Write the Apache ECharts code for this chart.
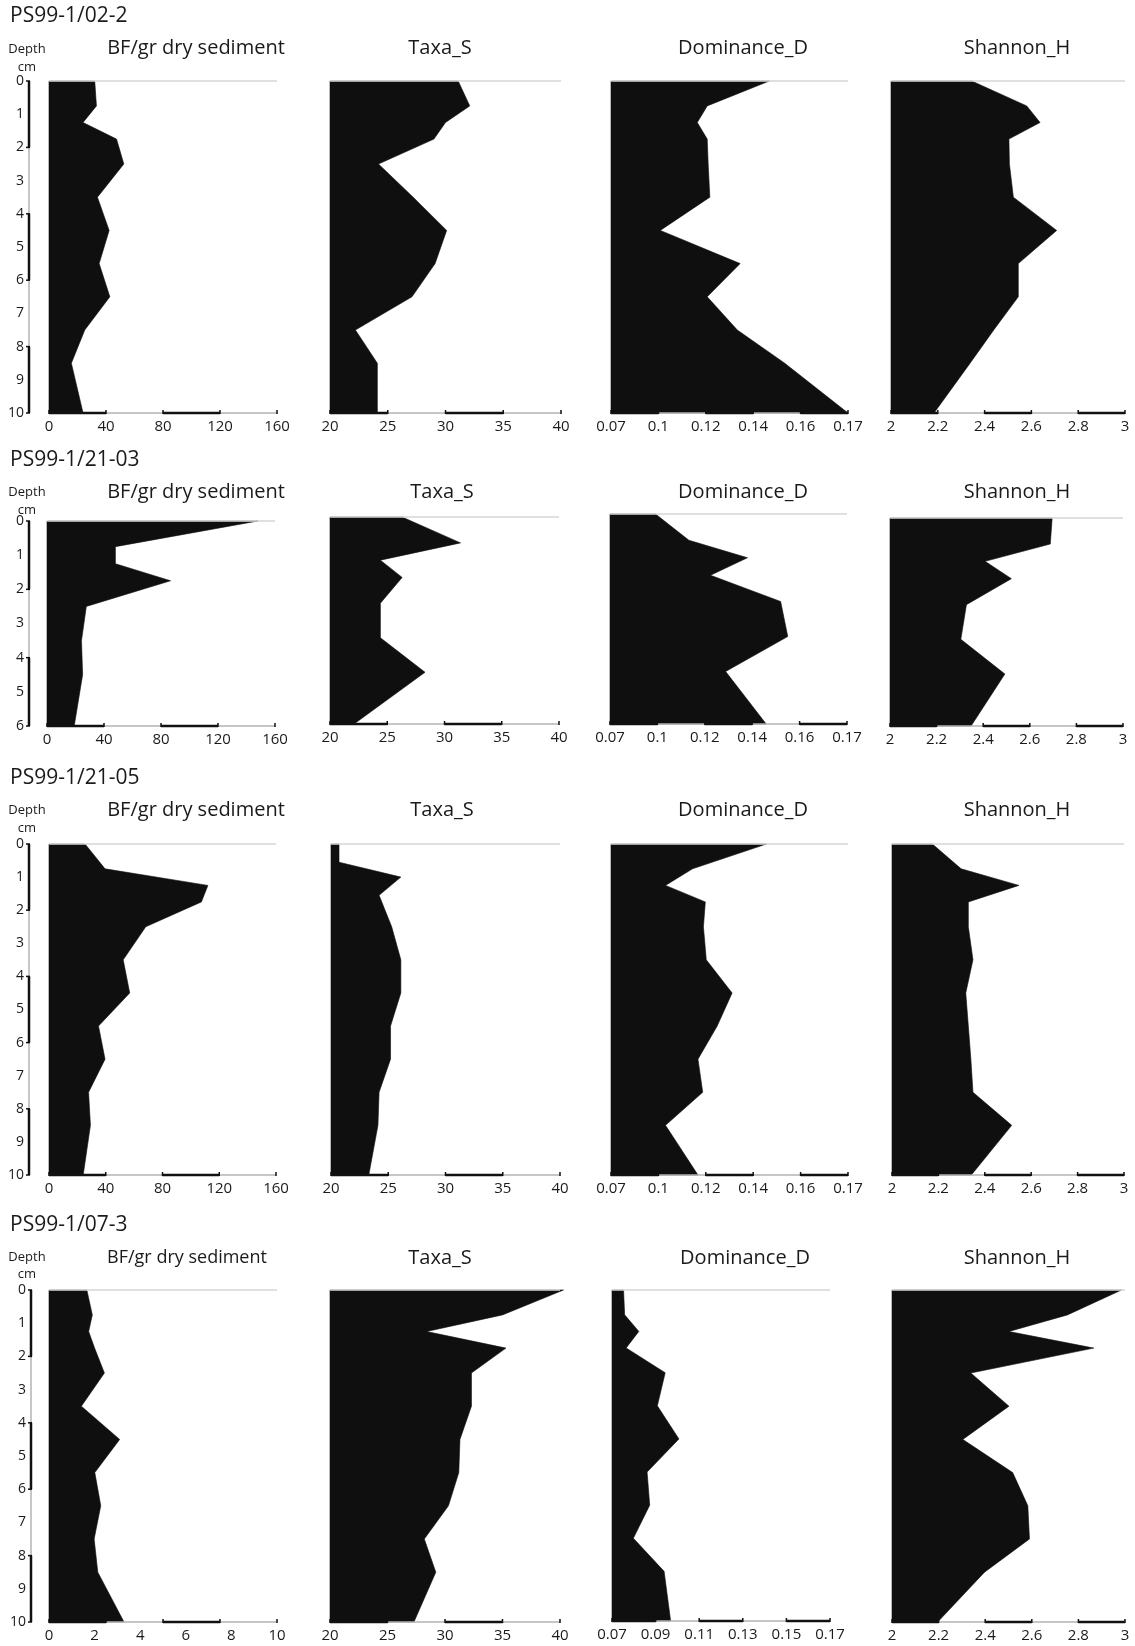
<!DOCTYPE html>
<html><head><meta charset="utf-8">
<script src="https://cdn.jsdelivr.net/npm/echarts@6/dist/echarts.min.js"></script>
<style>html,body{margin:0;padding:0;background:#fff}#c{width:1135px;height:1646px}</style>
</head><body><div id="c"></div><script>
// ---------------- DATA ----------------
const cores = ['PS99-1/02-2', 'PS99-1/21-03', 'PS99-1/21-05', 'PS99-1/07-3'];
const variables = ['BF/gr dry sediment', 'Taxa_S', 'Dominance_D', 'Shannon_H'];

// Core PS99-1/02-2
const depthA = [0, 0.75, 1.25, 1.75, 2.5, 3.5, 4.5, 5.5, 6.5, 7.5, 8.5, 10];
const bfA    = [32.1, 33.3, 23.9, 47.4, 52.5, 34.0, 42.2, 35.2, 42.7, 25.1, 15.7, 23.9];
const taxaA  = [31.1, 32.1, 30.0, 29.0, 24.2, 27.2, 30.1, 29.1, 27.1, 22.2, 24.1, 24.1];
const domA   = [0.1368, 0.1106, 0.1064, 0.1106, 0.1110, 0.1117, 0.0908, 0.1245, 0.1106, 0.1233, 0.1433, 0.17];
const shA    = [2.345, 2.58, 2.637, 2.504, 2.506, 2.523, 2.708, 2.544, 2.544, 2.439, 2.338, 2.184];

// Core PS99-1/21-03
const depthB = [0, 0.75, 1.25, 1.75, 2.5, 3.5, 4.5, 6];
const bfB    = [148, 48, 48, 86.7, 27.6, 24.2, 25, 19.1];
const taxaB  = [26.3, 31.4, 24.4, 26.3, 24.4, 24.4, 28.3, 22.1];
const domB   = [0.0892, 0.1033, 0.128, 0.1124, 0.142, 0.145, 0.1188, 0.1359];
const shB    = [2.696, 2.688, 2.408, 2.521, 2.328, 2.304, 2.493, 2.348];

// Core PS99-1/21-05
const depthC     = [0, 0.75, 1.25, 1.75, 2.5, 3.5, 4.5, 5.5, 6.5, 7.5, 8.5, 10];
const depthCtaxa = [0, 0.55, 1.0, 1.55, 2.5, 3.5, 4.5, 5.5, 6.5, 7.5, 8.5, 10];
const bfC    = [25.4, 39.5, 112, 107.4, 68.2, 52.3, 56.9, 34.9, 39.5, 27.9, 29.2, 24.1];
const taxaC  = [20.7, 20.7, 26.1, 24.2, 25.3, 26.1, 26.1, 25.2, 25.2, 24.2, 24.1, 23.3];
const domC   = [0.1356, 0.1044, 0.093, 0.1098, 0.109, 0.1102, 0.1211, 0.1148, 0.1067, 0.1087, 0.093, 0.1067];
const shC    = [2.174, 2.298, 2.547, 2.329, 2.329, 2.349, 2.318, 2.329, 2.34, 2.349, 2.516, 2.342];

// Core PS99-1/07-3
const depthD = [0, 0.75, 1.25, 1.75, 2.5, 3.5, 4.5, 5.5, 6.5, 7.5, 8.5, 10];
const bfD    = [1.66, 1.90, 1.74, 2.0, 2.43, 1.42, 3.10, 2.01, 2.27, 1.98, 2.14, 3.29];
const taxaD  = [40.3, 35.0, 28.4, 35.3, 32.3, 32.3, 31.3, 31.2, 30.3, 28.2, 29.2, 27.3];
const domD   = [0.0753, 0.0758, 0.0823, 0.0765, 0.0944, 0.0908, 0.1007, 0.0861, 0.0873, 0.0798, 0.0939, 0.0969];
const shD    = [2.985, 2.753, 2.502, 2.866, 2.338, 2.502, 2.304, 2.518, 2.583, 2.59, 2.397, 2.196];

// Tick labels / scale-bar boundaries
const bfTicks      = [0, 40, 80, 120, 160];
const bfLabels     = ['0', '40', '80', '120', '160'];
const bfTicksD     = [0, 2, 4, 6, 8, 10];
const bfLabelsD    = ['0', '2', '4', '6', '8', '10'];
const bfBarD       = [0, 2.5, 5, 7.5, 10];
const taxaTicks    = [20, 25, 30, 35, 40];
const taxaLabels   = ['20', '25', '30', '35', '40'];
const domTicks     = [0.07, 0.09, 0.11, 0.13, 0.15, 0.17];
const domLabels    = ['0.07', '0.1', '0.12', '0.14', '0.16', '0.17'];
const domLabelsD   = ['0.07', '0.09', '0.11', '0.13', '0.15', '0.17'];
const shTicks      = [2, 2.2, 2.4, 2.6, 2.8, 3];
const shLabels     = ['2', '2.2', '2.4', '2.6', '2.8', '3'];
const depthTicks10 = [0, 1, 2, 3, 4, 5, 6, 7, 8, 9, 10];
const depthTicks6  = [0, 1, 2, 3, 4, 5, 6];
const depthBar10   = [0, 2, 4, 6, 8, 10];
const depthBar6    = [0, 2, 4, 6];

// ---------------- PANEL DEFINITIONS ----------------
function ax(ticks, labels, interval, bar) { return {ticks, labels, interval, bar: bar || ticks}; }
const axBF = ax(bfTicks, bfLabels, 40);
const axBFD = ax(bfTicksD, bfLabelsD, 2, bfBarD);
const axTaxa = ax(taxaTicks, taxaLabels, 5);
const axDom = ax(domTicks, domLabels, 0.02);
const axDomD = ax(domTicks, domLabelsD, 0.02);
const axSh = ax(shTicks, shLabels, 0.2);

const rowsData = [
  {depthTicks: depthTicks10, depthBar: depthBar10, panels: [
    {d: depthA, v: bfA, ax: axBF}, {d: depthA, v: taxaA, ax: axTaxa}, {d: depthA, v: domA, ax: axDom}, {d: depthA, v: shA, ax: axSh}]},
  {depthTicks: depthTicks6, depthBar: depthBar6, panels: [
    {d: depthB, v: bfB, ax: axBF}, {d: depthB, v: taxaB, ax: axTaxa}, {d: depthB, v: domB, ax: axDom}, {d: depthB, v: shB, ax: axSh}]},
  {depthTicks: depthTicks10, depthBar: depthBar10, panels: [
    {d: depthC, v: bfC, ax: axBF}, {d: depthCtaxa, v: taxaC, ax: axTaxa}, {d: depthC, v: domC, ax: axDom}, {d: depthC, v: shC, ax: axSh}]},
  {depthTicks: depthTicks10, depthBar: depthBar10, panels: [
    {d: depthD, v: bfD, ax: axBFD}, {d: depthD, v: taxaD, ax: axTaxa}, {d: depthD, v: domD, ax: axDomD}, {d: depthD, v: shD, ax: axSh}]}
];

// ---------------- LAYOUT (pixels) ----------------
const layout = [
  {top: [81, 81, 81, 81], bottom: [413, 413, 413, 413], left: [49, 330, 611, 891], right: [277, 561, 848, 1125],
   axisX: 29, titleY: 16, depthY: 49, cmY: 67, headY: 48, headX: [196, 440, 743, 1017], bfFont: 20},
  {top: [521, 517, 514, 518], bottom: [726, 724, 724, 726], left: [47, 330, 610, 890], right: [275, 559, 847, 1123],
   axisX: 29, titleY: 460, depthY: 492, cmY: 510, headY: 492, headX: [196, 442, 743, 1017], bfFont: 20},
  {top: [844, 844, 844, 844], bottom: [1175, 1175, 1175, 1175], left: [49, 331, 611, 892], right: [276, 560, 848, 1124],
   axisX: 29, titleY: 778, depthY: 810, cmY: 828, headY: 810, headX: [196, 442, 743, 1017], bfFont: 20},
  {top: [1290, 1290, 1290, 1290], bottom: [1622, 1622, 1621, 1622], left: [49, 330, 612, 892], right: [277, 560, 830, 1125],
   axisX: 31, titleY: 1225, depthY: 1257, cmY: 1274, headY: 1258, headX: [187, 440, 745, 1017], bfFont: 18}
];

const FONT = '"Open Sans", "Noto Sans", sans-serif';
const TXT = '#1a1a1a';
const FILL = '#0f0f0f';

function labelFor(ticks, labels) {
  const span = ticks[ticks.length - 1] - ticks[0];
  return function (v) {
    for (let i = 0; i < ticks.length; i++) {
      if (Math.abs(ticks[i] - v) < span * 1e-6) return labels[i];
    }
    return '';
  };
}

function makeArea(xmin) {
  return function (params, api) {
    if (params.dataIndexInside !== 0) return null;
    const n = params.dataInsideLength;
    const pts = [api.coord([xmin, api.value(1, 0)])];
    for (let i = 0; i < n; i++) pts.push(api.coord([api.value(0, i), api.value(1, i)]));
    pts.push(api.coord([xmin, api.value(1, n - 1)]));
    return {type: 'polygon', shape: {points: pts}, style: {fill: FILL, stroke: FILL, lineWidth: 0.6}};
  };
}

function seg(p, q, stroke, w) {
  return {type: 'line', shape: {x1: p[0], y1: p[1], x2: q[0], y2: q[1]}, style: {stroke: stroke, lineWidth: w}};
}

function makeFrame(xBar, maxD, yBar, yOffset) {
  return function (params, api) {
    if (params.dataIndexInside !== 0) return null;
    const ch = [];
    const x0 = xBar[0], x1 = xBar[xBar.length - 1];
    ch.push(seg(api.coord([x0, 0]), api.coord([x1, 0]), '#d6d6d6', 1.5));
    for (let i = 0; i < xBar.length - 1; i++) {
      const black = i % 2 === 0;
      ch.push(seg(api.coord([xBar[i], maxD]), api.coord([xBar[i + 1], maxD]), black ? '#111' : '#b3b3b3', black ? 2.5 : 1.5));
    }
    for (const v of xBar) {
      const p = api.coord([v, maxD]);
      ch.push(seg([p[0], p[1] - 3], [p[0], p[1] + 1], '#111', 1.5));
    }
    if (yBar) {
      for (let i = 0; i < yBar.length - 1; i++) {
        const black = i % 2 === 0;
        const p = api.coord([x0, yBar[i]]), q = api.coord([x0, yBar[i + 1]]);
        ch.push(seg([p[0] - yOffset, p[1]], [q[0] - yOffset, q[1]], black ? '#111' : '#b3b3b3', black ? 2.5 : 1.5));
      }
      for (const v of yBar) {
        const p = api.coord([x0, v]);
        ch.push(seg([p[0] - yOffset - 3, p[1]], [p[0] - yOffset + 1, p[1]], '#111', 1.5));
      }
    }
    return {type: 'group', children: ch};
  };
}

const grids = [], xAxes = [], yAxes = [], series = [], graphics = [];
rowsData.forEach(function (row, r) {
  const L = layout[r];
  const maxD = row.depthTicks[row.depthTicks.length - 1];
  graphics.push({type: 'text', x: 10, y: L.titleY, style: {text: cores[r], fontSize: 21, fontFamily: FONT, fill: TXT, align: 'left', verticalAlign: 'middle', textAlign: 'left', textVerticalAlign: 'middle'}});
  graphics.push({type: 'text', x: 27, y: L.depthY, style: {text: 'Depth', fontSize: 13, fontFamily: FONT, fill: TXT, align: 'center', verticalAlign: 'middle', textAlign: 'center', textVerticalAlign: 'middle'}});
  graphics.push({type: 'text', x: 27, y: L.cmY, style: {text: 'cm', fontSize: 13, fontFamily: FONT, fill: TXT, align: 'center', verticalAlign: 'middle', textAlign: 'center', textVerticalAlign: 'middle'}});
  row.panels.forEach(function (p, c) {
    const k = r * 4 + c;
    const a = p.ax;
    const xmin = a.ticks[0], xmax = a.ticks[a.ticks.length - 1];
    const yOff = L.left[c] - L.axisX;
    graphics.push({type: 'text', x: L.headX[c], y: L.headY, style: {text: variables[c], fontSize: c === 0 ? L.bfFont : 20, fontFamily: FONT, fill: TXT, align: 'center', verticalAlign: 'middle', textAlign: 'center', textVerticalAlign: 'middle'}});
    grids.push({left: L.left[c], top: L.top[c], width: L.right[c] - L.left[c], height: L.bottom[c] - L.top[c], containLabel: false, outerBoundsMode: 'none'});
    xAxes.push({gridIndex: k, type: 'value', min: xmin, max: xmax, interval: a.interval,
      axisLine: {show: false}, axisTick: {show: false}, splitLine: {show: false},
      axisLabel: {show: true, fontSize: 15, fontFamily: FONT, color: TXT, margin: 6, hideOverlap: false,
        showMinLabel: true, showMaxLabel: true, formatter: labelFor(a.ticks, a.labels)}});
    yAxes.push({gridIndex: k, type: 'value', inverse: true, min: 0, max: maxD, interval: 1,
      show: c === 0, position: 'left', offset: yOff,
      axisLine: {show: false}, axisTick: {show: false}, splitLine: {show: false},
      axisLabel: {show: c === 0, fontSize: 14, fontFamily: FONT, color: TXT, margin: 5, hideOverlap: false,
        showMinLabel: true, showMaxLabel: true, formatter: labelFor(row.depthTicks, row.depthTicks.map(String))}});
    series.push({type: 'custom', xAxisIndex: k, yAxisIndex: k, silent: true, z: 2, animation: false,
      encode: {x: 0, y: 1}, data: p.v.map(function (v, i) { return [v, p.d[i]]; }), renderItem: makeArea(xmin)});
    series.push({type: 'custom', xAxisIndex: k, yAxisIndex: k, silent: true, z: 3, animation: false,
      encode: {x: 0, y: 1}, data: [[xmin, 0]],
      renderItem: makeFrame(a.bar, maxD, c === 0 ? row.depthBar : null, yOff)});
  });
});

const chart = echarts.init(document.getElementById('c'), null, {renderer: 'canvas'});
chart.setOption({
  backgroundColor: '#ffffff',
  animation: false,
  tooltip: {show: false},
  grid: grids, xAxis: xAxes, yAxis: yAxes, series: series,
  graphic: {elements: graphics}
});
</script></body></html>
